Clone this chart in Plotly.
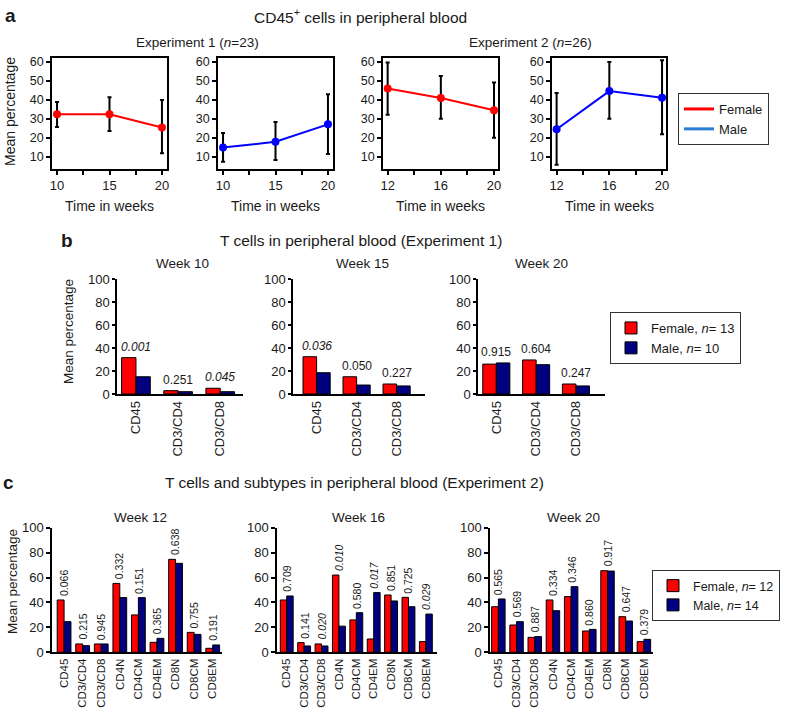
import plotly.graph_objects as go

W, H = 790, 718
FONT = "Liberation Sans, Arial, Helvetica, sans-serif"
TXT = "#1a1a1a"
RED = "#ff0000"
BLUE = "#0000ff"
NAVY = "#000080"
LEG_BLUE = "#2a7fd4"

# ---------------- data: panel a ----------------
exp1_weeks = [10, 15, 20]
exp1_female_mean = [32.5, 32.5, 25.5]
exp1_female_hi = [39.0, 41.5, 40.0]
exp1_female_lo = [25.8, 23.7, 12.0]
exp1_male_mean = [15.0, 18.0, 27.2]
exp1_male_hi = [22.6, 28.4, 43.0]
exp1_male_lo = [7.5, 8.4, 11.6]

exp2_weeks = [12, 16, 20]
exp2_female_mean = [46.0, 41.0, 34.6]
exp2_female_hi = [59.7, 52.6, 49.2]
exp2_female_lo = [32.3, 30.2, 20.2]
exp2_male_mean = [24.6, 44.7, 41.2]
exp2_male_hi = [43.7, 60.0, 60.9]
exp2_male_lo = [6.0, 30.2, 22.0]

# ---------------- data: panel b ----------------
b_cats = ["CD45", "CD3/CD4", "CD3/CD8"]
b_w10_female = [31.6, 2.9, 5.0]
b_w10_male = [15.0, 2.0, 2.0]
b_w10_p = ["0.001", "0.251", "0.045"]
b_w15_female = [32.4, 15.0, 8.7]
b_w15_male = [18.5, 7.8, 7.0]
b_w15_p = ["0.036", "0.050", "0.227"]
b_w20_female = [26.0, 29.6, 8.7]
b_w20_male = [27.0, 25.5, 7.0]
b_w20_p = ["0.915", "0.604", "0.247"]

# ---------------- data: panel c ----------------
c_cats = ["CD45", "CD3/CD4", "CD3/CD8", "CD4N", "CD4CM", "CD4EM", "CD8N", "CD8CM", "CD8EM"]
c_w12_female = [42.0, 6.7, 6.7, 55.3, 30.0, 8.0, 74.6, 16.0, 3.2]
c_w12_male = [24.6, 5.3, 6.7, 43.9, 43.9, 11.2, 71.4, 14.4, 5.9]
c_w12_p = ["0.066", "0.215", "0.945", "0.332", "0.151", "0.365", "0.638", "0.755", "0.191"]
c_w16_female = [42.0, 7.8, 6.7, 62.0, 26.0, 10.7, 46.0, 44.1, 8.6]
c_w16_male = [45.2, 5.1, 5.1, 21.0, 31.8, 47.9, 41.2, 36.6, 30.7]
c_w16_p = ["0.709", "0.141", "0.020", "0.010", "0.580", "0.017", "0.851", "0.725", "0.029"]
c_w20_female = [36.6, 21.9, 12.0, 42.0, 44.7, 17.1, 65.5, 28.6, 8.6]
c_w20_male = [42.8, 24.6, 12.6, 33.4, 52.7, 18.4, 65.2, 25.1, 10.4]
c_w20_p = ["0.565", "0.569", "0.887", "0.334", "0.346", "0.860", "0.917", "0.647", "0.379"]
SIG = 0.05


def X(px):
    return px / W


def Y(py):
    return 1 - py / H


fig = go.Figure()
layout = {}
annotations = []


def ann(text, x, y, size=13, **kw):
    d = dict(text=text, x=X(x), y=Y(y), xref="paper", yref="paper", showarrow=False,
             font=dict(family=FONT, size=size, color=TXT), xanchor="center", yanchor="middle")
    d.update(kw)
    annotations.append(d)


def axname(i):
    return ("xaxis", "yaxis") if i == 1 else ("xaxis%d" % i, "yaxis%d" % i)


def ref(i):
    return ("x", "y") if i == 1 else ("x%d" % i, "y%d" % i)


# ---------------- panel a ----------------
a_boxes = [(52, 167), (218, 333), (383, 498), (552, 666)]
a_ydom = [Y(169), Y(58)]
a_sets = [
    (exp1_weeks, exp1_female_mean, exp1_female_hi, exp1_female_lo, RED, [9.52, 20.48], 10, 5),
    (exp1_weeks, exp1_male_mean, exp1_male_hi, exp1_male_lo, BLUE, [9.52, 20.48], 10, 5),
    (exp2_weeks, exp2_female_mean, exp2_female_hi, exp2_female_lo, RED, [11.65, 20.3], 12, 4),
    (exp2_weeks, exp2_male_mean, exp2_male_hi, exp2_male_lo, BLUE, [11.65, 20.3], 12, 4),
]
for k, (box, s) in enumerate(zip(a_boxes, a_sets)):
    i = k + 1
    xa, ya = axname(i)
    xr, yr = ref(i)
    wk, mean, hi, lo, col, rng, t0, dt = s
    fig.add_trace(go.Scatter(
        x=wk, y=mean, mode="lines+markers", xaxis=xr, yaxis=yr, showlegend=False,
        line=dict(color=col, width=2), marker=dict(color=col, size=8),
        error_y=dict(type="data", symmetric=False,
                     array=[h - m for h, m in zip(hi, mean)],
                     arrayminus=[m - l for m, l in zip(mean, lo)],
                     color="black", thickness=2, width=2)))
    layout[xa] = dict(domain=[X(box[0]), X(box[1])], range=rng, anchor=yr,
                      showline=True, mirror=True, linecolor="black", linewidth=1.5,
                      ticks="outside", ticklen=4, tickwidth=1.5, tickcolor="black",
                      tick0=t0, dtick=dt, showgrid=False, zeroline=False, automargin=False,
                      minor=dict(dtick=dt / 2, tick0=t0, ticks="outside", ticklen=4,
                                 tickwidth=1.5, tickcolor="black", showgrid=False),
                      tickfont=dict(family=FONT, size=13, color=TXT))
    layout[ya] = dict(domain=a_ydom, range=[3.7, 62.1], anchor=xr,
                      showline=True, mirror=True, linecolor="black", linewidth=1.5,
                      ticks="outside", ticklen=4, tickwidth=1.5, tickcolor="black",
                      tick0=10, dtick=10, showgrid=False, zeroline=False, automargin=False,
                      tickfont=dict(family=FONT, size=12.5, color=TXT))
    ann("Time in weeks", (box[0] + box[1]) / 2, 206, size=14)

# legend entries for panel a
fig.add_trace(go.Scatter(x=[None], y=[None], mode="lines", name="Female",
                         line=dict(color=RED, width=3), legend="legend", xaxis="x", yaxis="y"))
fig.add_trace(go.Scatter(x=[None], y=[None], mode="lines", name="Male",
                         line=dict(color=LEG_BLUE, width=3), legend="legend", xaxis="x", yaxis="y"))

ann("<b>a</b>", 10, 15, size=19)
ann("CD45<sup>+</sup> cells in peripheral blood", 360, 16, size=15.5)
ann("Experiment 1 (<i>n</i>=23)", 197, 43, size=13.5)
ann("Experiment 2 (<i>n</i>=26)", 530, 43, size=13.5)
ann("Mean percentage", 10, 112, size=14, textangle=-90)

# ---------------- bar panel helper ----------------
def bar_panel(i, cats, fem, mal, pvals, xdom, ydom, rng, bw, legname, showleg, labels,
              tfs, pfs, rot, ticklen):
    xa, ya = axname(i)
    xr, yr = ref(i)
    fig.add_trace(go.Bar(x=cats, y=fem, xaxis=xr, yaxis=yr, width=bw, offset=-bw,
                         marker=dict(color=RED, line=dict(color="black", width=1)),
                         name=labels[0], legend=legname, showlegend=showleg))
    fig.add_trace(go.Bar(x=cats, y=mal, xaxis=xr, yaxis=yr, width=bw, offset=0,
                         marker=dict(color=NAVY, line=dict(color="black", width=1)),
                         name=labels[1], legend=legname, showlegend=showleg))
    layout[xa] = dict(domain=[X(xdom[0]), X(xdom[1])], type="category", range=rng, anchor=yr,
                      showline=True, linecolor="black", linewidth=1.5, ticks="",
                      tickangle=-90, showgrid=False, zeroline=False, automargin=False,
                      tickfont=dict(family=FONT, size=tfs, color=TXT))
    layout[ya] = dict(domain=[Y(ydom[1]), Y(ydom[0])], range=[0, 100], anchor=xr,
                      showline=True, linecolor="black", linewidth=1.5, ticks="outside",
                      ticklen=ticklen, tickwidth=1.5, tickcolor="black", dtick=20,
                      showgrid=False, zeroline=False, automargin=False,
                      tickfont=dict(family=FONT, size=13, color=TXT))
    for c, f, m, p in zip(cats, fem, mal, pvals):
        txt = "<i>%s</i>" % p if float(p) < SIG else p
        d = dict(text=txt, x=c, y=max(f, m), xref=xr, yref=yr, showarrow=False,
                 font=dict(family=FONT, size=pfs, color=TXT), xanchor="center",
                 yanchor="bottom", yshift=2)
        if rot:
            d["textangle"] = -90
        annotations.append(d)


# ---------------- panel b ----------------
b_ydom = (279, 394)
bar_panel(5, b_cats, b_w10_female, b_w10_male, b_w10_p, (117, 243), b_ydom, [-0.45, 2.54], 0.34,
          "legend2", True, ["Female, <i>n</i>= 13", "Male, <i>n</i>= 10"], 13, 12, False, 3)
bar_panel(6, b_cats, b_w15_female, b_w15_male, b_w15_p, (293, 425), b_ydom, [-0.59, 2.71], 0.34,
          "legend2", False, ["F", "M"], 13, 12, False, 3)
bar_panel(7, b_cats, b_w20_female, b_w20_male, b_w20_p, (478, 605), b_ydom, [-0.46, 2.73], 0.34,
          "legend2", False, ["F", "M"], 13, 12, False, 3)
ann("<b>b</b>", 67, 240, size=19)
ann("T cells in peripheral blood (Experiment 1)", 361, 240, size=15.5)
ann("Week 10", 182, 263, size=13.5)
ann("Week 15", 362, 263, size=13.5)
ann("Week 20", 541, 263, size=13.5)
ann("Mean percentage", 68, 332, size=13.5, textangle=-90)

# ---------------- panel c ----------------
c_ydom = (527.7, 652.3)
bar_panel(8, c_cats, c_w12_female, c_w12_male, c_w12_p, (52, 222), c_ydom, [-0.65, 8.5], 0.37,
          "legend3", True, ["Female, <i>n</i>= 12", "Male, <i>n</i>= 14"], 11.5, 10.5, True, 4)
bar_panel(9, c_cats, c_w16_female, c_w16_male, c_w16_p, (277, 437), c_ydom, [-0.56, 8.64], 0.37,
          "legend3", False, ["F", "M"], 11.5, 10.5, True, 4)
bar_panel(10, c_cats, c_w20_female, c_w20_male, c_w20_p, (490, 653), c_ydom, [-0.46, 8.5], 0.37,
          "legend3", False, ["F", "M"], 11.5, 10.5, True, 4)
ann("<b>c</b>", 8, 482, size=19)
ann("T cells and subtypes in peripheral blood (Experiment 2)", 354, 482, size=15.5)
ann("Week 12", 140, 517, size=13.5)
ann("Week 16", 358, 517, size=13.5)
ann("Week 20", 573, 517, size=13.5)
ann("Mean percentage", 12, 582, size=13.5, textangle=-90)

leg_common = dict(xanchor="left", yanchor="top", bordercolor="#333333", borderwidth=1,
                  bgcolor="white", font=dict(family=FONT, size=13, color=TXT),
                  tracegroupgap=0, itemwidth=30)
layout["legend"] = dict(x=X(678), y=Y(93), **leg_common)
layout["legend2"] = dict(x=X(610), y=Y(312), **leg_common)
leg3 = dict(leg_common)
leg3["font"] = dict(family=FONT, size=12.5, color=TXT)
layout["legend3"] = dict(x=X(652), y=Y(570), **leg3)

fig.update_layout(
    width=W, height=H, margin=dict(l=0, r=0, t=0, b=0, autoexpand=False),
    paper_bgcolor="white", plot_bgcolor="white", barmode="overlay",
    font=dict(family=FONT, color=TXT), annotations=annotations, **layout)

fig.write_html("out.html", config={"displayModeBar": False},
               post_script="document.body.style.margin='0px';")
